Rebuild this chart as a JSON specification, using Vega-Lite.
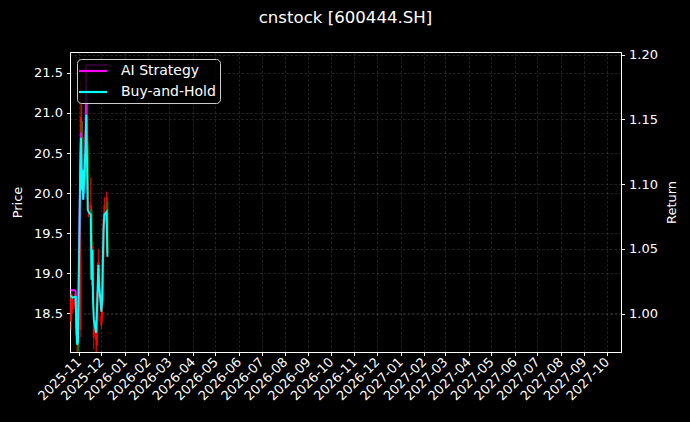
{
  "$schema": "https://vega.github.io/schema/vega-lite/v6.json",
  "width": 551,
  "height": 300,
  "autosize": {"type": "none"},
  "padding": {"left": 70, "top": 52, "right": 69, "bottom": 70},
  "background": "black",
  "title": {"text": "cnstock [600444.SH]", "color": "white", "fontSize": 16.6, "font": "DejaVu Sans", "fontWeight": "normal", "offset": 22, "anchor": "middle"},
  "config": {
    "view": {"stroke": "white", "strokeWidth": 1},
    "font": "DejaVu Sans",
    "axis": {
      "domainColor": "white", "tickColor": "white", "labelColor": "white", "titleColor": "white",
      "labelFont": "DejaVu Sans", "titleFont": "DejaVu Sans", "labelFontSize": 13, "titleFontSize": 13,
      "titleFontWeight": "normal", "tickSize": 3.5, "labelPadding": 4,
      "gridColor": "#808080", "gridOpacity": 0.45, "gridDash": [2.5, 2], "gridWidth": 0.6
    },
    "legend": {
      "orient": "top-left", "offset": 7, "fillColor": "rgba(0,0,0,0.8)", "strokeColor": "#cccccc",
      "cornerRadius": 4, "padding": 4, "symbolType": "M-2.15,0H2.15", "symbolStrokeWidth": 2.2, "symbolSize": 169,
      "symbolOffset": 4, "labelFontSize": 14, "labelColor": "white", "labelFont": "DejaVu Sans", "labelOffset": 20, "rowPadding": 6
    }
  },
  "data": {"values": [
    {"d": "2025-10-22", "o": 18.40, "h": 18.75, "l": 18.30, "c": 18.70, "ai": 1.019, "bh": 1.0139},
    {"d": "2025-10-23", "o": 18.70, "h": 18.78, "l": 18.55, "c": 18.68, "ai": 1.018, "bh": 1.0131},
    {"d": "2025-10-24", "o": 18.55, "h": 18.72, "l": 18.50, "c": 18.67, "ai": 1.018, "bh": 1.0124},
    {"d": "2025-10-27", "o": 18.60, "h": 18.75, "l": 18.55, "c": 18.68, "ai": 1.018, "bh": 1.0131},
    {"d": "2025-10-28", "o": 18.70, "h": 18.72, "l": 18.50, "c": 18.64, "ai": 1.017, "bh": 1.0130},
    {"d": "2025-10-29", "o": 18.62, "h": 18.66, "l": 18.15, "c": 18.22, "ai": 0.992, "bh": 0.988},
    {"d": "2025-10-30", "o": 17.95, "h": 18.40, "l": 17.85, "c": 18.00, "ai": 0.980, "bh": 0.976},
    {"d": "2025-10-31", "o": 18.15, "h": 18.20, "l": 17.95, "c": 18.03, "ai": 0.982, "bh": 0.978},
    {"d": "2025-11-03", "o": 18.30, "h": 20.60, "l": 18.20, "c": 20.42, "ai": 1.112, "bh": 1.1073},
    {"d": "2025-11-04", "o": 20.40, "h": 21.40, "l": 20.20, "c": 20.95, "ai": 1.140, "bh": 1.1359},
    {"d": "2025-11-05", "o": 20.90, "h": 21.10, "l": 20.10, "c": 20.21, "ai": 1.095, "bh": 1.0958},
    {"d": "2025-11-06", "o": 20.10, "h": 20.90, "l": 20.00, "c": 20.49, "ai": 1.110, "bh": 1.1112},
    {"d": "2025-11-07", "o": 20.50, "h": 20.70, "l": 19.95, "c": 20.06, "ai": 1.088, "bh": 1.0880},
    {"d": "2025-11-10", "o": 20.05, "h": 21.00, "l": 20.00, "c": 20.77, "ai": 1.127, "bh": 1.1266},
    {"d": "2025-11-11", "o": 20.80, "h": 21.55, "l": 20.70, "c": 21.27, "ai": 1.192, "bh": 1.1537},
    {"d": "2025-11-12", "o": 21.20, "h": 21.30, "l": 20.50, "c": 20.63, "ai": 1.192, "bh": 1.1189},
    {"d": "2025-11-13", "o": 20.60, "h": 20.70, "l": 19.85, "c": 19.92, "ai": 1.192, "bh": 1.0803},
    {"d": "2025-11-14", "o": 19.80, "h": 20.10, "l": 19.70, "c": 19.89, "ai": 1.192, "bh": 1.0788},
    {"d": "2025-11-17", "o": 19.70, "h": 20.20, "l": 19.60, "c": 19.85, "ai": 1.192, "bh": 1.0764},
    {"d": "2025-11-18", "o": 19.80, "h": 19.85, "l": 18.85, "c": 18.92, "ai": 1.192, "bh": 1.0263},
    {"d": "2025-11-19", "o": 18.90, "h": 19.50, "l": 18.80, "c": 19.35, "ai": 1.192, "bh": 1.0494},
    {"d": "2025-11-20", "o": 19.30, "h": 19.40, "l": 18.55, "c": 18.64, "ai": 1.192, "bh": 1.0108},
    {"d": "2025-11-21", "o": 18.20, "h": 18.60, "l": 18.05, "c": 18.36, "ai": 1.192, "bh": 0.9954},
    {"d": "2025-11-24", "o": 18.40, "h": 18.45, "l": 18.00, "c": 18.17, "ai": 1.192, "bh": 0.9853},
    {"d": "2025-11-25", "o": 18.10, "h": 18.50, "l": 18.00, "c": 18.43, "ai": 1.192, "bh": 0.9992},
    {"d": "2025-11-26", "o": 18.40, "h": 18.85, "l": 18.30, "c": 18.78, "ai": 1.192, "bh": 1.0185},
    {"d": "2025-11-27", "o": 18.75, "h": 19.30, "l": 18.70, "c": 19.14, "ai": 1.192, "bh": 1.0378},
    {"d": "2025-11-28", "o": 19.10, "h": 19.15, "l": 18.75, "c": 18.85, "ai": 1.192, "bh": 1.0224},
    {"d": "2025-12-01", "o": 18.35, "h": 18.70, "l": 18.30, "c": 18.47, "ai": 1.192, "bh": 1.0015},
    {"d": "2025-12-02", "o": 18.45, "h": 18.80, "l": 18.40, "c": 18.64, "ai": 1.192, "bh": 1.0108},
    {"d": "2025-12-03", "o": 18.65, "h": 19.30, "l": 18.60, "c": 19.21, "ai": 1.192, "bh": 1.0417},
    {"d": "2025-12-04", "o": 19.20, "h": 19.75, "l": 19.15, "c": 19.68, "ai": 1.192, "bh": 1.0672},
    {"d": "2025-12-05", "o": 19.65, "h": 19.95, "l": 19.55, "c": 19.85, "ai": 1.192, "bh": 1.0764},
    {"d": "2025-12-08", "o": 19.80, "h": 20.02, "l": 19.70, "c": 19.89, "ai": 1.192, "bh": 1.0788},
    {"d": "2025-12-09", "o": 19.90, "h": 19.95, "l": 19.20, "c": 19.25, "ai": 1.192, "bh": 1.0440}
  ]},
  "encoding": {
    "x": {
      "field": "d", "type": "temporal",
      "scale": {"type": "utc", "domain": [
        {"year": 2025, "month": 10, "date": 20, "hours": 12, "utc": true},
        {"year": 2027, "month": 10, "date": 19, "hours": 19, "utc": true}
      ]},
      "axis": {
        "title": null, "format": "%Y-%m", "labelAngle": -45, "labelAlign": "right", "labelBaseline": "middle",
        "grid": true, "labelOverlap": false,
        "values": [
          {"year": 2025, "month": 11, "date": 1, "utc": true},
          {"year": 2025, "month": 12, "date": 1, "utc": true},
          {"year": 2026, "month": 1, "date": 1, "utc": true},
          {"year": 2026, "month": 2, "date": 1, "utc": true},
          {"year": 2026, "month": 3, "date": 1, "utc": true},
          {"year": 2026, "month": 4, "date": 1, "utc": true},
          {"year": 2026, "month": 5, "date": 1, "utc": true},
          {"year": 2026, "month": 6, "date": 1, "utc": true},
          {"year": 2026, "month": 7, "date": 1, "utc": true},
          {"year": 2026, "month": 8, "date": 1, "utc": true},
          {"year": 2026, "month": 9, "date": 1, "utc": true},
          {"year": 2026, "month": 10, "date": 1, "utc": true},
          {"year": 2026, "month": 11, "date": 1, "utc": true},
          {"year": 2026, "month": 12, "date": 1, "utc": true},
          {"year": 2027, "month": 1, "date": 1, "utc": true},
          {"year": 2027, "month": 2, "date": 1, "utc": true},
          {"year": 2027, "month": 3, "date": 1, "utc": true},
          {"year": 2027, "month": 4, "date": 1, "utc": true},
          {"year": 2027, "month": 5, "date": 1, "utc": true},
          {"year": 2027, "month": 6, "date": 1, "utc": true},
          {"year": 2027, "month": 7, "date": 1, "utc": true},
          {"year": 2027, "month": 8, "date": 1, "utc": true},
          {"year": 2027, "month": 9, "date": 1, "utc": true},
          {"year": 2027, "month": 10, "date": 1, "utc": true}
        ]
      }
    }
  },
  "layer": [
    {
      "encoding": {
        "y": {"type": "quantitative", "scale": {"domain": [18.02, 21.76], "nice": false, "zero": false},
              "axis": {"title": "Price", "orient": "left", "values": [18.5, 19.0, 19.5, 20.0, 20.5, 21.0, 21.5], "format": ".1f", "grid": true, "titlePadding": 9}},
        "color": {"condition": {"test": "datum.c >= datum.o", "value": "#ff0000"}, "value": "#008000"}
      },
      "layer": [
        {"mark": {"type": "rule", "strokeWidth": 1, "clip": true},
         "encoding": {"y": {"field": "l", "type": "quantitative"}, "y2": {"field": "h"}}},
        {"mark": {"type": "rule", "strokeWidth": 2, "clip": true},
         "encoding": {"y": {"field": "o", "type": "quantitative"}, "y2": {"field": "c"}}}
      ]
    },
    {
      "encoding": {
        "y": {"type": "quantitative", "scale": {"domain": [0.9704, 1.2021], "nice": false, "zero": false},
              "axis": {"title": "Return", "orient": "right", "titleAngle": 270, "values": [1.0, 1.05, 1.1, 1.15, 1.2], "format": ".2f", "grid": true, "titlePadding": 21}}
      },
      "layer": [
        {"mark": {"type": "line", "strokeWidth": 2, "clip": true},
         "encoding": {"y": {"field": "ai", "type": "quantitative"},
                      "color": {"datum": "AI Strategy", "type": "nominal", "scale": {"domain": ["AI Strategy", "Buy-and-Hold"], "range": ["#ff00ff", "#00ffff"]}, "legend": {"title": null}}}},
        {"mark": {"type": "line", "strokeWidth": 2, "clip": true},
         "encoding": {"y": {"field": "bh", "type": "quantitative"},
                      "color": {"datum": "Buy-and-Hold", "type": "nominal"}}}
      ]
    }
  ],
  "resolve": {"scale": {"y": "independent"}}
}
